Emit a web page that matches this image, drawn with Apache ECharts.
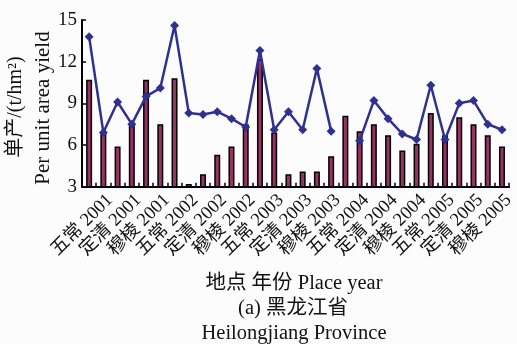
<!DOCTYPE html>
<html>
<head>
<meta charset="utf-8">
<script src="https://cdn.jsdelivr.net/npm/echarts@6/dist/echarts.min.js"></script>
<style>
  html, body { margin: 0; padding: 0; background: #fcfcfc; }
  #chart { width: 517px; height: 344px; }
</style>
</head>
<body>
<div id="chart"></div>
<script>
// Site / year labels shown under every second bar
var tickLabels = [
  '五常 2001', '定清 2001', '穆棱 2001',
  '五常 2002', '定清 2002', '穆棱 2002',
  '五常 2003', '定清 2003', '穆棱 2003',
  '五常 2004', '定清 2004', '穆棱 2004',
  '五常 2005', '定清 2005', '穆棱 2005'
];

// Bar series: yield per unit area (t/hm²)
var barValues = [
  10.7, 6.9, 5.9, 7.6, 10.7, 7.5, 10.8, 3.2, 3.9, 5.3,
  5.9, 7.5, 12.2, 6.9, 3.9, 4.1, 4.1, 5.2, 8.1, 7.0,
  7.5, 6.7, 5.6, 6.1, 8.3, 6.7, 8.0, 7.5, 6.7, 5.9
];

// Line series: yield per unit area (t/hm²); '-' marks a missing value
var lineValues = [
  13.8, 6.9, 9.1, 7.5, 9.5, 10.1, 14.6, 8.3, 8.2, 8.4,
  7.9, 7.3, 12.8, 7.1, 8.4, 7.1, 11.5, 7.0, '-', 6.3,
  9.2, 7.9, 6.8, 6.4, 10.3, 6.4, 9.0, 9.2, 7.5, 7.1
];

// Y axis range
var yMin = 3, yMax = 15, yStep = 3;

// Each label sits under the second bar of a pair
var categories = [];
tickLabels.forEach(function (t) { categories.push(''); categories.push(t); });

var serif = '"Liberation Serif", "DejaVu Serif", "Noto Sans CJK SC", serif';

var chart = echarts.init(document.getElementById('chart'), null, { renderer: 'canvas' });
chart.setOption({
  backgroundColor: '#fcfcfc',
  animation: false,
  grid: { left: 82, top: 20, height: 166.7, width: 438, containLabel: false },
  xAxis: {
    type: 'category',
    data: categories,
    axisLine: { lineStyle: { color: '#000', width: 2 } },
    axisTick: { show: true, inside: true, length: 4, interval: 0, lineStyle: { color: '#000', width: 1.5 } },
    axisLabel: {
      interval: 0, rotate: 45, margin: 4, color: '#111',
      verticalAlign: 'top',
      fontSize: 18.5, fontFamily: serif
    }
  },
  yAxis: {
    type: 'value',
    min: yMin, max: yMax, interval: yStep,
    splitLine: { show: false },
    axisLine: { show: true, lineStyle: { color: '#000', width: 2 } },
    axisTick: { show: true, inside: true, length: 4, lineStyle: { color: '#000', width: 1.5 } },
    axisLabel: { color: '#111', fontSize: 19, fontFamily: serif, margin: 5 }
  },
  series: [
    {
      type: 'bar',
      data: barValues,
      barWidth: 6,
      itemStyle: { color: '#993366', borderColor: '#000', borderWidth: 1.5 },
      z: 2
    },
    {
      type: 'line',
      data: lineValues,
      connectNulls: false,
      symbol: 'diamond',
      symbolSize: 9,
      lineStyle: { color: '#2f3190', width: 2.5 },
      itemStyle: { color: '#2f3190' },
      z: 3
    }
  ],
  graphic: [
    {
      type: 'text', x: 16, y: 107, rotation: Math.PI / 2,
      style: { text: '单产/(t/hm²)', font: '20px ' + serif, fill: '#111', align: 'center', verticalAlign: 'middle' }
    },
    {
      type: 'text', x: 43, y: 108, rotation: Math.PI / 2,
      style: { text: 'Per unit area yield', font: '21px ' + serif, fill: '#111', align: 'center', verticalAlign: 'middle' }
    },
    {
      type: 'text', x: 294, y: 284,
      style: { text: '地点 年份 Place year', font: '20.5px ' + serif, fill: '#111', align: 'center', verticalAlign: 'middle' }
    },
    {
      type: 'text', x: 293, y: 309,
      style: { text: '(a) 黑龙江省', font: '20.5px ' + serif, fill: '#111', align: 'center', verticalAlign: 'middle' }
    },
    {
      type: 'text', x: 294, y: 334,
      style: { text: 'Heilongjiang Province', font: '20.5px ' + serif, fill: '#111', align: 'center', verticalAlign: 'middle' }
    }
  ]
});
</script>
</body>
</html>
